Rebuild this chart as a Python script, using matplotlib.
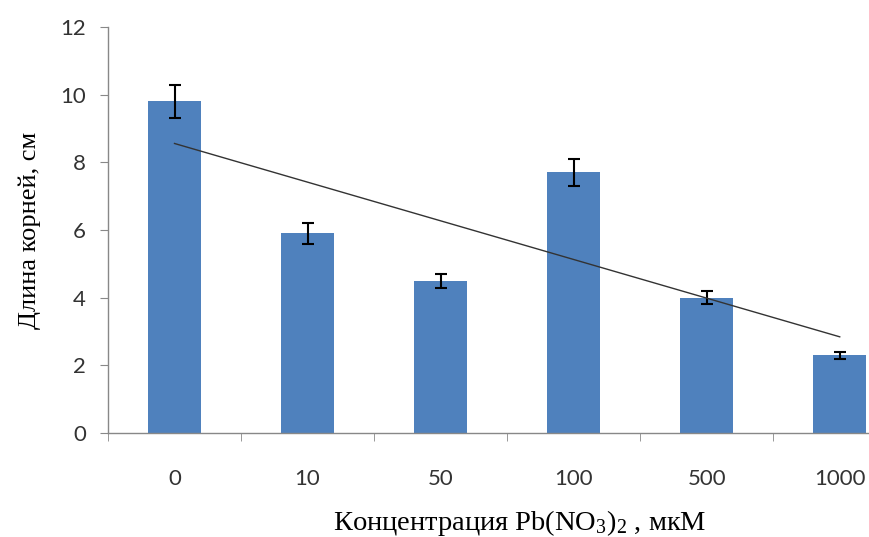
import numpy as np
import matplotlib
matplotlib.use("Agg")
import matplotlib.pyplot as plt

categories = ["0", "10", "50", "100", "500", "1000"]
values = [9.8, 5.9, 4.5, 7.7, 4.0, 2.3]
errors = [0.5, 0.3, 0.2, 0.4, 0.2, 0.1]
yticks = [0, 2, 4, 6, 8, 10, 12]

plt.rcParams['mathtext.fontset'] = 'custom'
plt.rcParams['mathtext.rm'] = 'Liberation Serif'
plt.rcParams['mathtext.it'] = 'Liberation Serif:italic'

fig = plt.figure(figsize=(8.69, 5.37), dpi=100)
ax = fig.add_axes([108/869, (537-433)/537, 1 - 108/869, (433-27)/537])

x = np.arange(len(categories))
ax.bar(x, values, width=0.4, color="#4F81BD", zorder=2)
ax.errorbar(x, values, yerr=errors, fmt="none", ecolor="black", elinewidth=1.5,
            capsize=4, capthick=1.5, zorder=3)

# linear trend line
coef = np.polyfit(x, values, 1)
ax.plot(x, np.polyval(coef, x), color="#333333", lw=1.0, zorder=4)

ax.set_xlim(-0.5, 5.22)
ax.set_ylim(0, 12)
ax.set_yticks(yticks)
ax.set_yticklabels([str(t) for t in yticks], family="Lato", fontsize=16, color="#333333")
ax.set_xticks(x)
ax.set_xticklabels(categories, family="Lato", fontsize=16, color="#333333")
ax.set_xticks(np.arange(-0.5, 5.5, 1.0), minor=True)
ax.tick_params(axis="x", which="major", length=0, pad=26)
ax.tick_params(axis="x", which="minor", length=6, color="#888888", direction="out")
ax.tick_params(axis="y", length=6, color="#888888", direction="out", pad=10)

for s in ["top", "right"]:
    ax.spines[s].set_visible(False)
for s in ["left", "bottom"]:
    ax.spines[s].set_color("#888888")
    ax.spines[s].set_linewidth(1.0)

ax.set_ylabel("Длина корней, см", family="Liberation Serif", fontsize=19, labelpad=14)
ax.set_xlabel(r"Концентрация Pb(NO$_3$)$_2$ , мкМ", family="Liberation Serif",
              fontsize=20.5)
ax.xaxis.set_label_coords(0.541, -0.185)

fig.savefig("out.png", dpi=100)
